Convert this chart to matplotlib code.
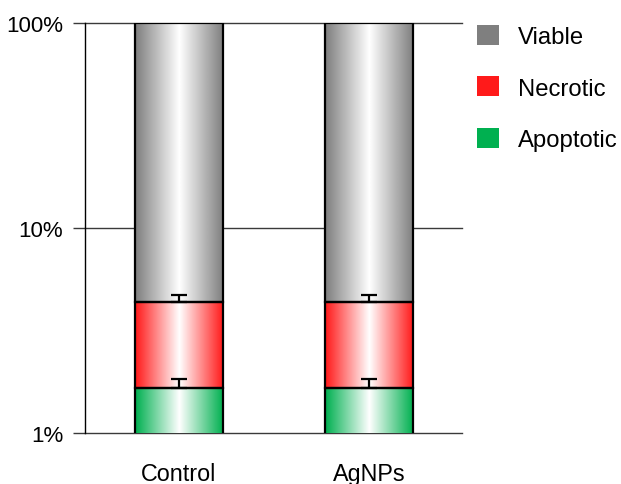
import numpy as np
import matplotlib
matplotlib.use("Agg")
import matplotlib.pyplot as plt
from matplotlib.patches import Patch
from matplotlib.colors import to_rgb

plt.rcParams['font.family'] = ['Liberation Sans', 'DejaVu Sans']

# data (percent of cells, stacked)
groups = ["Control", "AgNPs"]
apoptotic = [1.66, 1.66]
necrotic = [2.70, 2.70]
viable = [95.64, 95.64]
apoptoticErr = [0.17, 0.17]
necroticErr = [0.37, 0.37]
yTicks = [1, 10, 100]
yTickLabels = ["1%", "10%", "100%"]

seriesNames = ["Viable", "Necrotic", "Apoptotic"]
colours = {"Viable": "#7f7f7f", "Necrotic": "#ff1a1a", "Apoptotic": "#00b050"}


def gradientImage(colour, n=200):
    # cylinder look: base colour at the edges, white in the middle
    t = np.abs(np.linspace(-1, 1, n))
    base = np.array(to_rgb(colour))
    img = (1 - t)[:, None] * np.ones(3) + t[:, None] * base
    return img[None, :, :]


fig = plt.figure(figsize=(6.21, 4.85), dpi=100)
ax = fig.add_axes([85 / 621, 1 - 434 / 485, (462 - 85) / 621, (434 - 24) / 485])

x = np.arange(len(groups))
width = 0.463

stack = [("Apoptotic", apoptotic), ("Necrotic", necrotic), ("Viable", viable)]
bottoms = np.zeros(len(groups))
tops = {}
for name, vals in stack:
    vals = np.array(vals)
    for i in range(len(groups)):
        b = max(bottoms[i], 1)
        t = bottoms[i] + vals[i]
        ax.imshow(gradientImage(colours[name]), extent=(x[i] - width / 2, x[i] + width / 2, b, t),
                  aspect="auto", interpolation="bilinear", zorder=2)
    ax.bar(x, vals, width, bottom=bottoms, facecolor="none", edgecolor="black", linewidth=1.6, zorder=3)
    bottoms = bottoms + vals
    tops[name] = bottoms.copy()

ax.errorbar(x, tops["Apoptotic"], yerr=[np.zeros(len(groups)), apoptoticErr], fmt="none",
            ecolor="black", elinewidth=1.6, capsize=6, capthick=1.6, zorder=4)
ax.errorbar(x, tops["Necrotic"], yerr=[np.zeros(len(groups)), necroticErr], fmt="none",
            ecolor="black", elinewidth=1.6, capsize=6, capthick=1.6, zorder=4)

ax.set_yscale("log")
ax.set_ylim(1, 100)
ax.set_xlim(-0.495, 1.49)
ax.set_yticks(yTicks)
ax.set_yticklabels(yTickLabels)
ax.yaxis.set_minor_locator(matplotlib.ticker.NullLocator())
ax.set_xticks(x)
ax.set_xticklabels(groups)

ax.grid(axis="y", color="#3a3a3a", linewidth=1.0, zorder=0)
ax.set_axisbelow(True)
for gl in ax.yaxis.get_gridlines():
    gl.set_clip_on(False)
for s in ["top", "right", "bottom"]:
    ax.spines[s].set_visible(False)
ax.spines["left"].set_color("black")
ax.spines["left"].set_linewidth(1.0)

ax.tick_params(axis="y", length=8.6, width=1.0, color="#3a3a3a", pad=7, labelsize=16)
ax.tick_params(axis="x", length=0, pad=21, labelsize=16.8)

handles = [Patch(facecolor=colours[n], edgecolor="none", label=n) for n in seriesNames]
fig.legend(handles=handles, loc="upper left", bbox_to_anchor=(477 / 621, 1 - 26 / 485),
           frameon=False, fontsize=17.2, handlelength=0.9, handleheight=0.9,
           handletextpad=0.8, labelspacing=1.18, borderpad=0, borderaxespad=0)

fig.savefig("out.png", dpi=100)
